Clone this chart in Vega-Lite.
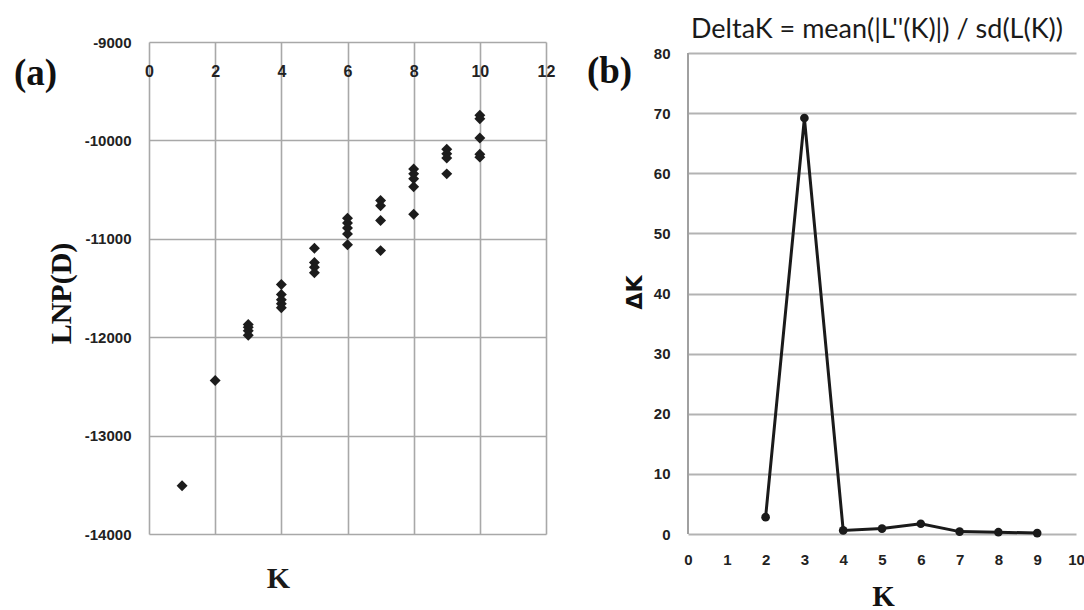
{
  "$schema": "https://vega.github.io/schema/vega-lite/v6.json",
  "background": "white",
  "padding": {"left": 13, "top": 16, "right": 0, "bottom": 0},
  "autosize": {"type": "pad"},
  "spacing": 142,
  "bounds": "flush",
  "config": {
    "view": {"stroke": null},
    "axis": {
      "labelFont": "Liberation Sans",
      "labelFontWeight": "bold",
      "labelFontSize": 15,
      "labelColor": "#222222",
      "ticks": false,
      "domain": false,
      "gridColor": "#a8a8a8",
      "gridWidth": 1.6,
      "gridOpacity": 1,
      "labelFlush": false,
      "labelOverlap": false
    }
  },
  "hconcat": [
    {
      "width": 397,
      "height": 492,
      "title": {
        "text": "K",
        "orient": "bottom",
        "anchor": "middle",
        "frame": "group",
        "dx": -69,
        "offset": 22,
        "baseline": "top",
        "font": "Liberation Serif",
        "fontSize": 30,
        "fontWeight": "bold",
        "color": "#1a1a1a"
      },
      "data": {
        "values": [
          {"K": 1, "LNP": -13510},
          {"K": 2, "LNP": -12440},
          {"K": 3, "LNP": -11870},
          {"K": 3, "LNP": -11900},
          {"K": 3, "LNP": -11935},
          {"K": 3, "LNP": -11980},
          {"K": 4, "LNP": -11465},
          {"K": 4, "LNP": -11565},
          {"K": 4, "LNP": -11620},
          {"K": 4, "LNP": -11660},
          {"K": 4, "LNP": -11700},
          {"K": 5, "LNP": -11095},
          {"K": 5, "LNP": -11240},
          {"K": 5, "LNP": -11290},
          {"K": 5, "LNP": -11345},
          {"K": 6, "LNP": -10790},
          {"K": 6, "LNP": -10840},
          {"K": 6, "LNP": -10890},
          {"K": 6, "LNP": -10950},
          {"K": 6, "LNP": -11060},
          {"K": 7, "LNP": -10610},
          {"K": 7, "LNP": -10665},
          {"K": 7, "LNP": -10815},
          {"K": 7, "LNP": -11120},
          {"K": 8, "LNP": -10290},
          {"K": 8, "LNP": -10340},
          {"K": 8, "LNP": -10390},
          {"K": 8, "LNP": -10470},
          {"K": 8, "LNP": -10750},
          {"K": 9, "LNP": -10090},
          {"K": 9, "LNP": -10135},
          {"K": 9, "LNP": -10180},
          {"K": 9, "LNP": -10340},
          {"K": 10, "LNP": -9745},
          {"K": 10, "LNP": -9780},
          {"K": 10, "LNP": -9975},
          {"K": 10, "LNP": -10140},
          {"K": 10, "LNP": -10170}
        ]
      },
      "mark": {"type": "point", "shape": "diamond", "filled": true, "size": 120, "color": "#1c1c1c", "opacity": 1},
      "encoding": {
        "x": {
          "field": "K",
          "type": "quantitative",
          "scale": {"domain": [0, 12], "nice": false, "zero": false},
          "axis": {
            "orient": "top",
            "values": [0, 2, 4, 6, 8, 10, 12],
            "labelPadding": -29,
            "labelBaseline": "middle",
            "labelFontSize": 16,
            "grid": true,
            "title": "(a)",
            "titleX": -114,
            "titleY": 31,
            "titleAngle": 0,
            "titleAlign": "center",
            "titleBaseline": "middle",
            "titleFont": "Liberation Serif",
            "titleFontSize": 37,
            "titleFontWeight": "bold",
            "titleColor": "#111111"
          }
        },
        "y": {
          "field": "LNP",
          "type": "quantitative",
          "scale": {"domain": [-14000, -9000], "nice": false, "zero": false},
          "axis": {
            "values": [-14000, -13000, -12000, -11000, -10000, -9000],
            "labelExpr": "'' + datum.value",
            "labelPadding": 18,
            "grid": true,
            "title": "LNP(D)",
            "titleX": -88,
            "titleY": 251,
            "titleAngle": -90,
            "titleAlign": "center",
            "titleBaseline": "middle",
            "titleFont": "Liberation Serif",
            "titleFontSize": 30,
            "titleFontWeight": "bold",
            "titleColor": "#111111"
          }
        }
      }
    },
    {
      "width": 388,
      "height": 492,
      "title": {
        "text": "DeltaK = mean(|L''(K)|) / sd(L(K))",
        "anchor": "middle",
        "frame": "group",
        "dx": -5,
        "dy": 28,
        "offset": 5,
        "baseline": "alphabetic",
        "font": "Lato",
        "fontSize": 27,
        "fontWeight": "normal",
        "color": "#1a1a1a"
      },
      "layer": [
        {
          "data": {"values": [{"K": 0, "lo": 0, "hi": 80}]},
          "mark": {"type": "rule", "color": "#a0a0a0", "strokeWidth": 2},
          "encoding": {
            "x": {
              "field": "K",
              "type": "quantitative",
              "scale": {"domain": [0, 10], "nice": false, "zero": false},
              "axis": {
                "orient": "top",
                "labels": false,
                "grid": false,
                "title": "(b)",
                "titleX": -79,
                "titleY": 29.5,
                "titleAngle": 0,
                "titleAlign": "center",
                "titleBaseline": "middle",
                "titleFont": "Liberation Serif",
                "titleFontSize": 37,
                "titleFontWeight": "bold",
                "titleColor": "#111111"
              }
            },
            "y": {"field": "lo", "type": "quantitative", "scale": {"domain": [0, 81.85], "nice": false}, "axis": null},
            "y2": {"field": "hi"}
          }
        },
        {
          "data": {
            "values": [
              {"K": 2, "DeltaK": 2.8},
              {"K": 3, "DeltaK": 69.2},
              {"K": 4, "DeltaK": 0.6},
              {"K": 5, "DeltaK": 0.9},
              {"K": 6, "DeltaK": 1.7},
              {"K": 7, "DeltaK": 0.4},
              {"K": 8, "DeltaK": 0.3},
              {"K": 9, "DeltaK": 0.15}
            ]
          },
          "mark": {"type": "line", "color": "#1a1a1a", "strokeWidth": 3, "point": {"filled": true, "size": 75, "color": "#1a1a1a", "opacity": 1}},
          "encoding": {
            "x": {
              "field": "K",
              "type": "quantitative",
              "scale": {"domain": [0, 10], "nice": false, "zero": false},
              "axis": {
                "orient": "bottom",
                "values": [0, 1, 2, 3, 4, 5, 6, 7, 8, 9, 10],
                "labelPadding": 18,
                "grid": false,
                "title": "K",
                "titleX": 195,
                "titleY": 62,
                "titleAngle": 0,
                "titleAlign": "center",
                "titleBaseline": "middle",
                "titleFont": "Liberation Serif",
                "titleFontSize": 29,
                "titleFontWeight": "bold",
                "titleColor": "#111111"
              }
            },
            "y": {
              "field": "DeltaK",
              "type": "quantitative",
              "scale": {"domain": [0, 81.85], "nice": false},
              "axis": {
                "values": [0, 10, 20, 30, 40, 50, 60, 70, 80],
                "labelPadding": 18,
                "grid": true,
                "gridColor": "#b3b3b3",
                "gridWidth": 2,
                "title": "ΔK",
                "titleX": -54,
                "titleY": 250,
                "titleAngle": -90,
                "titleAlign": "center",
                "titleBaseline": "middle",
                "titleFont": "DejaVu Sans",
                "titleFontSize": 22,
                "titleFontWeight": "bold",
                "titleColor": "#111111"
              }
            }
          }
        }
      ],
      "resolve": {"axis": {"x": "independent", "y": "independent"}}
    }
  ]
}
